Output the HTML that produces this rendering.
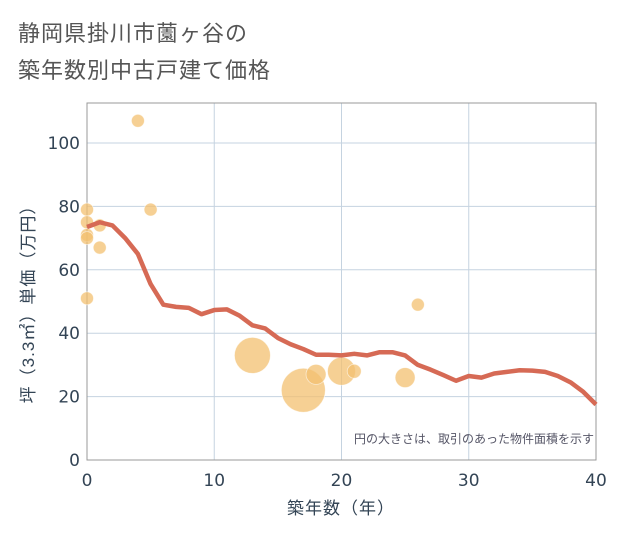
<!DOCTYPE html>
<html><head><meta charset="utf-8"><style>
body{margin:0;background:#fff;font-family:"Liberation Sans","Noto Sans CJK JP",sans-serif}
</style></head><body>
<svg width="621" height="530" xmlns="http://www.w3.org/2000/svg" id="svg" style="font-family:'Liberation Sans','Noto Sans CJK JP',sans-serif">
<text x="18" y="41" font-size="22" fill="#555" letter-spacing="1">静岡県掛川市薗ヶ谷の</text>
<text x="18" y="78" font-size="22" fill="#555" letter-spacing="1">築年数別中古戸建て価格</text>
<g id="grid"></g><g id="marks"></g>
<text x="594" y="443" font-size="12" fill="#556" text-anchor="end">円の大きさは、取引のあった物件面積を示す</text>
<text x="341" y="514" font-size="17" fill="#345" text-anchor="middle" letter-spacing="1">築年数（年）</text>
<text transform="translate(34,300) rotate(-90)" font-size="17" fill="#345" text-anchor="middle" letter-spacing="1">坪（3.3㎡）単価（万円）</text>
</svg>
<script>
const xTicks=[0,10,20,30,40];
const yTicks=[0,20,40,60,80,100];
const lineYears=[0,1,2,3,4,5,6,7,8,9,10,11,12,13,14,15,16,17,18,19,20,21,22,23,24,25,26,27,28,29,30,31,32,33,34,35,36,37,38,39,40];
const lineValues=[73.5,75,74,70,65,55.5,49,48.3,48,46,47.3,47.5,45.5,42.5,41.5,38.5,36.5,35,33.2,33.2,33,33.5,33,34,34,33,30,28.5,26.8,25,26.5,26,27.3,27.8,28.3,28.2,27.8,26.5,24.5,21.5,17.5];
const ptYears=[0,0,0,0,0,1,1,4,5,13,17,18,20,21,25,26];
const ptValues=[79,75,71,70,51,74,67,107,79,33,22,27,28,28,26,49];
const ptSizes=[6.5,6.5,6.5,6.5,6.5,6.5,6.5,6.5,6.5,18,22,10,14,7,10,6.5];
const L=87,R=596,T=103,B=460;
const xs=v=>L+(R-L)*v/40, ys=v=>B-(B-143)*v/100;
const NS='http://www.w3.org/2000/svg';
const g=document.getElementById('grid'),m=document.getElementById('marks');
function mk(p,tag,a){const e=document.createElementNS(NS,tag);for(const k in a)e.setAttribute(k,a[k]);p.appendChild(e);return e;}
xTicks.forEach(t=>{const l=mk(g,'line',{x1:xs(t),x2:xs(t),y1:T,y2:B,stroke:'#c5d3e0'});


const tx=mk(g,'text',{x:xs(t),y:B+26,'font-size':17,fill:'#345','text-anchor':'middle','font-family':'DejaVu Sans, sans-serif'});tx.textContent=t;

});
yTicks.forEach(t=>{const l=mk(g,'line',{x1:L,x2:R,y1:ys(t),y2:ys(t),stroke:'#c5d3e0'});


const tx=mk(g,'text',{x:L-7,y:ys(t)+6,'font-size':17,fill:'#345','text-anchor':'end','font-family':'DejaVu Sans, sans-serif'});tx.textContent=t;

});
const fr=mk(g,'rect',{x:L,y:T,width:R-L,height:B-T,fill:'none',stroke:'#999'});


ptYears.forEach((y,i)=>{const c=mk(m,'circle',{cx:xs(y),cy:ys(ptValues[i]),r:ptSizes[i],fill:'#f3c070','fill-opacity':0.75,stroke:'#fff','stroke-width':0.8,'stroke-opacity':0.6});

});
const p=mk(m,'polyline',{points:lineYears.map((y,i)=>xs(y)+','+ys(lineValues[i])).join(' '),fill:'none',stroke:'#d66a55','stroke-width':4.5,'stroke-linejoin':'round'});


</script>
</body></html>
